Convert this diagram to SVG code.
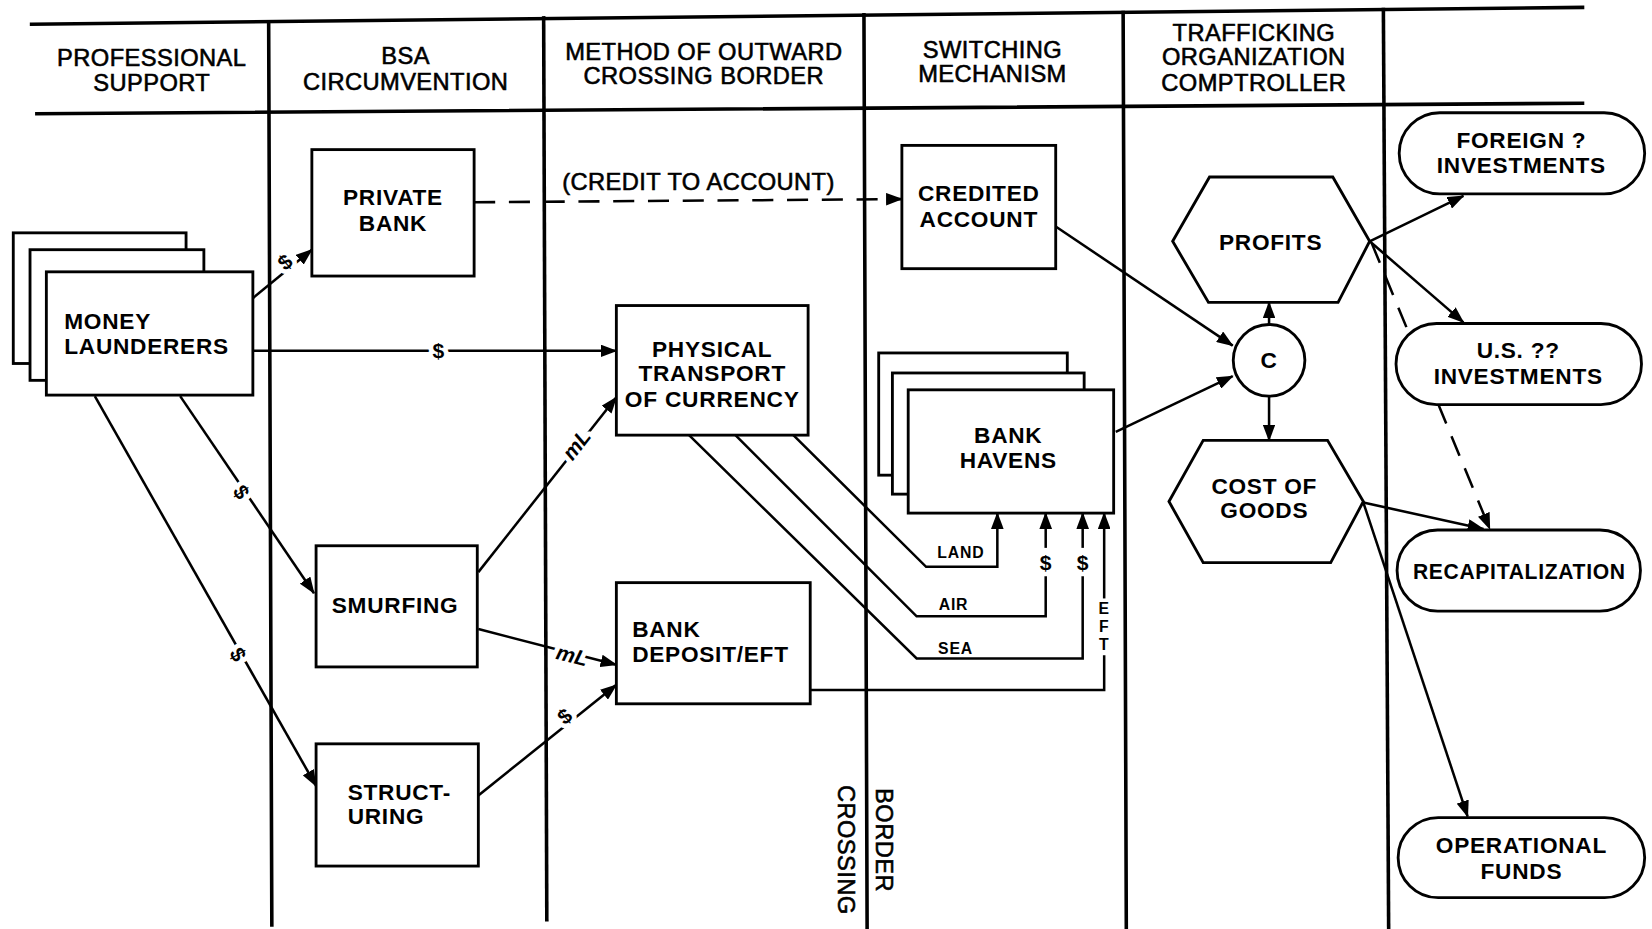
<svg xmlns="http://www.w3.org/2000/svg" width="1652" height="929" viewBox="0 0 1652 929">
<defs>
<marker id="arr" markerUnits="userSpaceOnUse" markerWidth="16" markerHeight="12" refX="15" refY="6" orient="auto">
<path d="M0,0 L16,6 L0,12 z" fill="#000"/>
</marker>
<style>
.lane{stroke:#000;stroke-width:3.4;fill:none;stroke-linecap:square}
.box{fill:#fff;stroke:#000;stroke-width:2.7}
.conn{stroke:#000;stroke-width:2.4;fill:none}
.dash{stroke-dasharray:20 13}
text{font-family:"Liberation Sans",Arial,Helvetica,sans-serif;fill:#000}
.h{font-size:22.5px;text-anchor:middle;letter-spacing:0.4px;stroke:#000;stroke-width:0.55px}
.n{font-size:21.5px;font-weight:bold;text-anchor:middle;letter-spacing:0.7px}
.nl{font-size:21.5px;font-weight:bold;letter-spacing:0.7px}
.lb{font-size:20px;font-weight:bold;text-anchor:middle;stroke:#fff;stroke-width:9px;paint-order:stroke fill;stroke-linejoin:round}
.sm{font-size:15px;font-weight:bold;text-anchor:middle;letter-spacing:0.8px}
</style>
</defs>
<rect width="1652" height="929" fill="#fff"/>
<g transform="scale(1.0536)">
<g id="lanes">
<line class="lane" x1="30" y1="23" x2="1502" y2="7"/>
<line class="lane" x1="35" y1="108" x2="1502" y2="98"/>
<line class="lane" x1="255" y1="22" x2="258" y2="878"/>
<line class="lane" x1="516" y1="17" x2="519" y2="873"/>
<line class="lane" x1="820" y1="14" x2="823" y2="880"/>
<line class="lane" x1="1066" y1="12" x2="1069" y2="880"/>
<line class="lane" x1="1313" y1="9" x2="1318" y2="880"/>
</g>
<g id="headers">
<text class="h" x="144" y="63">PROFESSIONAL</text>
<text class="h" x="144" y="86">SUPPORT</text>
<text class="h" x="385" y="61">BSA</text>
<text class="h" x="385" y="85">CIRCUMVENTION</text>
<text class="h" x="668" y="57">METHOD OF OUTWARD</text>
<text class="h" x="668" y="80">CROSSING BORDER</text>
<text class="h" x="942" y="55">SWITCHING</text>
<text class="h" x="942" y="78">MECHANISM</text>
<text class="h" x="1190" y="39">TRAFFICKING</text>
<text class="h" x="1190" y="62">ORGANIZATION</text>
<text class="h" x="1190" y="86">COMPTROLLER</text>
<text class="h" style="text-anchor:start" transform="translate(831,748) rotate(90)">BORDER</text>
<text class="h" style="text-anchor:start" transform="translate(795,745) rotate(90)">CROSSING</text>
</g>
<g id="connectors">
<line class="conn" x1="240" y1="283" x2="296" y2="237" marker-end="url(#arr)"/>
<text class="lb" transform="translate(275,254) rotate(-40)">$</text>
<line class="conn" x1="240" y1="333" x2="585" y2="333" marker-end="url(#arr)"/>
<text class="lb" x="416" y="340">$</text>
<line class="conn dash" x1="450" y1="192" x2="856" y2="189" marker-end="url(#arr)"/>
<text class="h" x="663" y="180">(CREDIT TO ACCOUNT)</text>
<line class="conn" x1="171" y1="376" x2="298" y2="563" marker-end="url(#arr)"/>
<text class="lb" transform="translate(229,467) rotate(56) translate(0,7)">$</text>
<line class="conn" x1="90" y1="376" x2="300" y2="746" marker-end="url(#arr)"/>
<text class="lb" transform="translate(226,621) rotate(60) translate(0,7)">$</text>
<line class="conn" x1="454" y1="543" x2="585" y2="377" marker-end="url(#arr)"/>
<text class="lb" style="font-style:italic" transform="translate(547,422) rotate(-52) translate(0,7)">mL</text>
<line class="conn" x1="454" y1="597" x2="585" y2="631" marker-end="url(#arr)"/>
<text class="lb" style="font-style:italic" transform="translate(543,622) rotate(14) translate(0,7)">mL</text>
<line class="conn" x1="454" y1="755" x2="585" y2="650" marker-end="url(#arr)"/>
<text class="lb" transform="translate(536,680) rotate(-39) translate(0,7)">$</text>
<polyline class="conn" points="753,413 879,538 946.6,538 946.6,487" marker-end="url(#arr)"/>
<polyline class="conn" points="698,413 870,585 992.5,585 992.5,547"/>
<line class="conn" x1="992.5" y1="520" x2="992.5" y2="487" marker-end="url(#arr)"/>
<polyline class="conn" points="654,413 870,625 1027.6,625 1027.6,547"/>
<line class="conn" x1="1027.6" y1="520" x2="1027.6" y2="487" marker-end="url(#arr)"/>
<text class="sm" x="912" y="530">LAND</text>
<text class="sm" x="905" y="579">AIR</text>
<text class="sm" x="907" y="621">SEA</text>
<text class="lb" style="stroke:none" x="992.5" y="541">$</text>
<text class="lb" style="stroke:none" x="1027.6" y="541">$</text>
<polyline class="conn" points="769,655 1048,655 1048,622"/>
<line class="conn" x1="1048" y1="568" x2="1048" y2="487" marker-end="url(#arr)"/>
<text class="sm" x="1048" y="583">E</text>
<text class="sm" x="1048" y="600">F</text>
<text class="sm" x="1048" y="617">T</text>
<line class="conn" x1="1002" y1="215" x2="1170" y2="328" marker-end="url(#arr)"/>
<line class="conn" x1="1059" y1="410" x2="1170" y2="357" marker-end="url(#arr)"/>
<line class="conn" x1="1204.5" y1="308" x2="1204.5" y2="287" marker-end="url(#arr)"/>
<line class="conn" x1="1204.5" y1="376" x2="1204.5" y2="418" marker-end="url(#arr)"/>
<line class="conn" x1="1300" y1="229" x2="1389" y2="186" marker-end="url(#arr)"/>
<line class="conn" x1="1300" y1="229" x2="1389" y2="306" marker-end="url(#arr)"/>
<line class="conn dash" x1="1302" y1="231" x2="1414" y2="502" marker-end="url(#arr)"/>
<line class="conn" x1="1294" y1="477" x2="1408" y2="502" marker-end="url(#arr)"/>
<line class="conn" x1="1294" y1="477" x2="1393" y2="775" marker-end="url(#arr)"/>
</g>
<g id="money-launderers">
<rect class="box" x="12.6" y="221" width="164" height="124"/>
<rect class="box" x="28.5" y="237" width="165" height="124"/>
<rect class="box" x="44" y="258" width="196" height="117"/>
<text class="nl" x="61" y="312">MONEY</text>
<text class="nl" x="61" y="336">LAUNDERERS</text>
</g>
<g id="private-bank">
<rect class="box" x="296" y="142" width="154" height="120"/>
<text class="n" x="373" y="195">PRIVATE</text>
<text class="n" x="373" y="219">BANK</text>
</g>
<g id="smurfing">
<rect class="box" x="300" y="518" width="153" height="115"/>
<text class="n" x="375" y="582">SMURFING</text>
</g>
<g id="structuring">
<rect class="box" x="300" y="706" width="154" height="116"/>
<text class="nl" x="330" y="759">STRUCT-</text>
<text class="nl" x="330" y="782">URING</text>
</g>
<g id="physical-transport">
<rect class="box" x="585" y="290" width="182" height="123"/>
<text class="n" x="676" y="339">PHYSICAL</text>
<text class="n" x="676" y="362">TRANSPORT</text>
<text class="n" x="676" y="386" textLength="166" lengthAdjust="spacingAndGlyphs">OF CURRENCY</text>
</g>
<g id="bank-deposit">
<rect class="box" x="585" y="553" width="184" height="115"/>
<text class="nl" x="600" y="605">BANK</text>
<text class="nl" x="600" y="628">DEPOSIT/EFT</text>
</g>
<g id="credited-account">
<rect class="box" x="856" y="138" width="146" height="117"/>
<text class="n" x="929" y="191">CREDITED</text>
<text class="n" x="929" y="215">ACCOUNT</text>
</g>
<g id="bank-havens">
<rect class="box" x="834" y="335" width="179" height="116"/>
<rect class="box" x="847" y="354" width="182" height="115"/>
<rect class="box" x="862" y="370" width="195" height="117"/>
<text class="n" x="957" y="420">BANK</text>
<text class="n" x="957" y="444">HAVENS</text>
</g>
<g id="profits">
<polygon class="box" points="1113,229 1148,168 1265,168 1300,229 1270,287 1147,287"/>
<text class="n" x="1206" y="237">PROFITS</text>
</g>
<g id="comptroller-c">
<circle class="box" cx="1204.5" cy="342" r="34"/>
<text class="n" x="1204.5" y="349">C</text>
</g>
<g id="cost-of-goods">
<polygon class="box" points="1109.5,476 1142,418 1260,418 1294,476 1263,534 1142,534"/>
<text class="n" x="1200" y="469">COST OF</text>
<text class="n" x="1200" y="492">GOODS</text>
</g>
<g id="foreign-investments">
<rect class="box" x="1328" y="107" width="233" height="77" rx="38.5"/>
<text class="n" x="1444" y="140">FOREIGN ?</text>
<text class="n" x="1444" y="164">INVESTMENTS</text>
</g>
<g id="us-investments">
<rect class="box" x="1325" y="307" width="233" height="77" rx="38.5"/>
<text class="n" x="1441" y="340">U.S. ??</text>
<text class="n" x="1441" y="364">INVESTMENTS</text>
</g>
<g id="recapitalization">
<rect class="box" x="1326" y="503" width="231" height="77" rx="38.5"/>
<text class="n" x="1442" y="550" textLength="202" lengthAdjust="spacingAndGlyphs">RECAPITALIZATION</text>
</g>
<g id="operational-funds">
<rect class="box" x="1327" y="776" width="234" height="76" rx="38"/>
<text class="n" x="1444" y="810">OPERATIONAL</text>
<text class="n" x="1444" y="834">FUNDS</text>
</g>
</g>
</svg>
